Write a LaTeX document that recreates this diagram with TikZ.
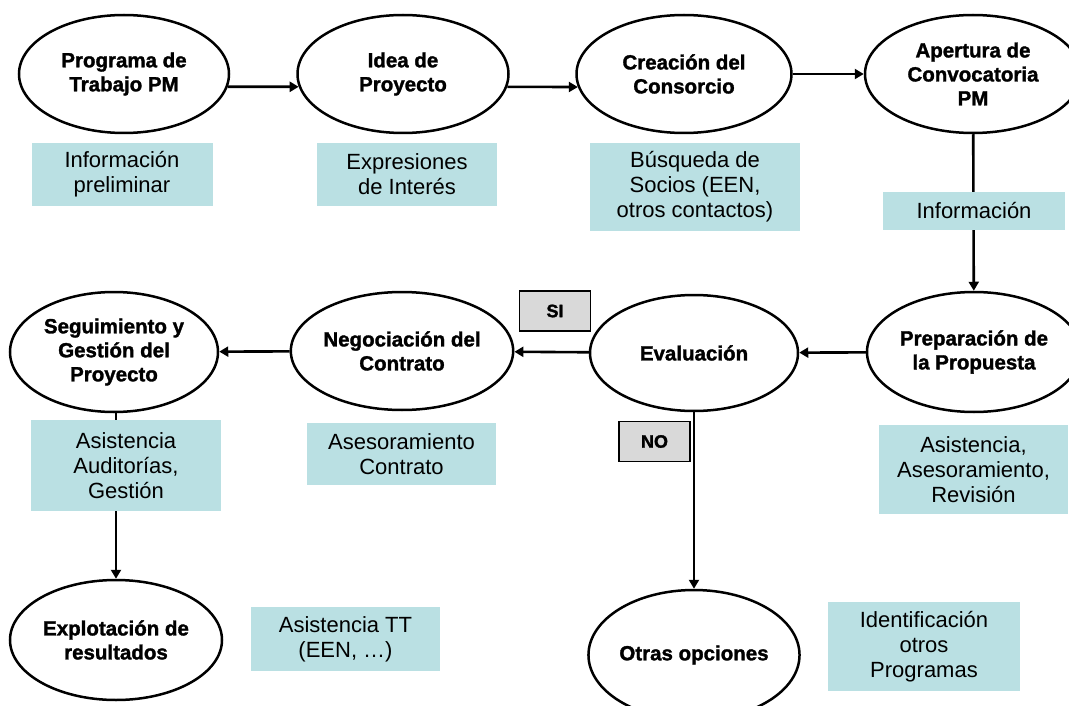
\documentclass[tikz,border=0pt]{standalone}
\usepackage{fontspec}
\setmainfont{Liberation Sans}
\newfontfamily\fasefont{Liberation Sans Bold}[FakeBold=1.5]
\usetikzlibrary{shapes.geometric,arrows.meta}
\definecolor{infocyan}{RGB}{186,224,227}
\definecolor{taggray}{RGB}{217,217,217}

\begin{document}
\begin{tikzpicture}[x=1pt,y=-1pt,
  fase/.style={ellipse,draw,line width=2.5pt,inner sep=0pt,align=center,font=\fontsize{20.5}{24}\fasefont},
  apoyo/.style={fill=infocyan,inner sep=0pt,align=center,font=\fontsize{22}{25}\selectfont},
  tag/.style={draw,fill=taggray,line width=1.8pt,minimum width=71,minimum height=40,inner sep=0pt,font=\fontsize{18}{22}\fasefont},
  arr/.style={-{Triangle[length=9pt,width=10pt]},line width=2.6pt}]
\useasboundingbox (0,0) rectangle (1069,706);
\clip (0,0) rectangle (1069,706);
% fases
\node[fase,minimum width=210,minimum height=118] (prog) at (124,74) {Programa de\\Trabajo PM};
\node[fase,minimum width=211,minimum height=118] (idea) at (403,74) {Idea de\\Proyecto};
\node[fase,minimum width=215,minimum height=118] (cons) at (684,74) {Creación del\\Consorcio};
\node[fase,minimum width=216,minimum height=118] (aper) at (973,74) {Apertura de\\Convocatoria\\PM};
\node[fase,minimum width=214,minimum height=120] (prep) at (974,352) {Preparación de\\la Propuesta};
\node[fase,minimum width=208,minimum height=116] (eval) at (694,353) {Evaluación};
\node[fase,minimum width=211,minimum height=118] (nego) at (402,351) {Negociación del\\Contrato};
\node[fase,minimum width=208,minimum height=120] (segu) at (114,352) {Seguimiento y\\Gestión del\\Proyecto};
\node[fase,minimum width=212,minimum height=120] (expl) at (116,640) {Explotación de\\resultados};
\node[fase,minimum width=211,minimum height=130] (otras) at (694,655) {Otras opciones};
% conexiones
\draw[arr] (prog.-7)--(idea.187);
\draw[arr] (idea.-7)--(cons.187);
\foreach \a/\b in {cons/aper,aper/prep,prep/eval,eval/nego,nego/segu,eval/otras} \draw[arr] (\a)--(\b);
\draw[arr] (segu.south -| expl.north)--(expl.north);
% apoyo
\node[apoyo,minimum width=181,minimum height=63] (info) at (122,174.5) {Información\\preliminar};
\node[apoyo,minimum width=180,minimum height=63] (expr) at (407,174.5) {Expresiones\\de Interés};
\node[apoyo,minimum width=210,minimum height=88] (socios) at (695,187) {Búsqueda de\\Socios (EEN,\\otros contactos)};
\node[apoyo,minimum width=182,minimum height=38] (infconv) at (974,211) {Información};
\node[apoyo,minimum width=189,minimum height=89] (revis) at (973.5,469.5) {Asistencia,\\Asesoramiento,\\Revisión};
\node[apoyo,minimum width=189,minimum height=62] (asesor) at (401.5,454) {Asesoramiento\\Contrato};
\node[apoyo,minimum width=190,minimum height=91] (audit) at (126,465.5) {Asistencia\\Auditorías,\\Gestión};
\node[apoyo,minimum width=189,minimum height=64] (tt) at (345.5,639) {Asistencia TT\\(EEN, …)};
\node[apoyo,minimum width=192,minimum height=89] (ident) at (924,646.5) {Identificación\\otros\\Programas};
% decision
\node[tag] (si) at (555,311) {SI};
\node[tag] (no) at (654.5,441.5) {NO};
\end{tikzpicture}
\end{document}
